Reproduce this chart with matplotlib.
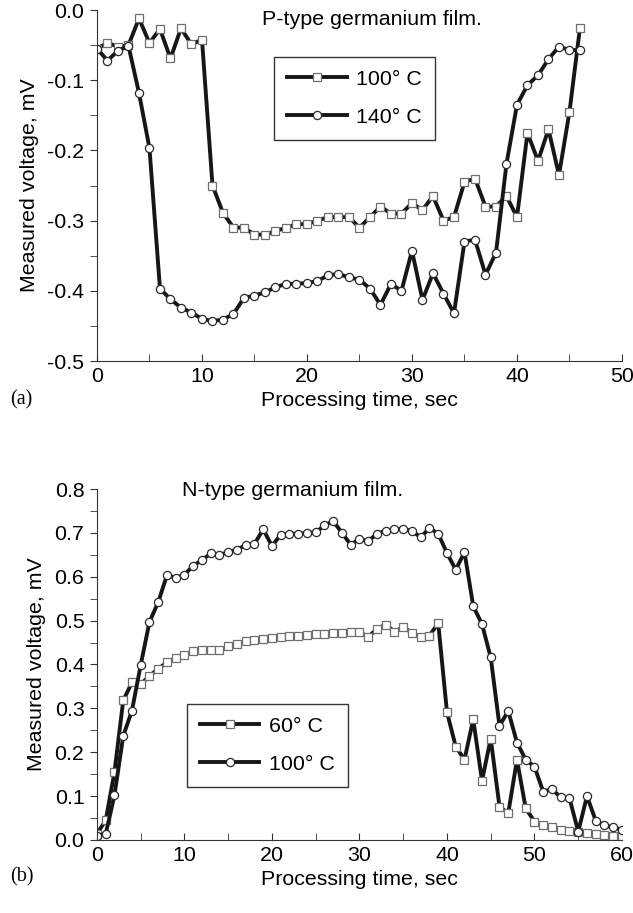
import numpy as np
import matplotlib
matplotlib.use("Agg")
import matplotlib.pyplot as plt
from matplotlib.ticker import MultipleLocator, FormatStrFormatter

#data
t_a = np.arange(0, 47)
p_100 = [-0.055, -0.047, -0.052, -0.050, -0.012, -0.047, -0.027, -0.069, -0.026, -0.049,
         -0.042, -0.250, -0.289, -0.310, -0.310, -0.320, -0.320, -0.315, -0.310, -0.305,
         -0.305, -0.300, -0.295, -0.295, -0.295, -0.310, -0.295, -0.280, -0.290, -0.290,
         -0.275, -0.285, -0.265, -0.300, -0.295, -0.245, -0.240, -0.280, -0.280, -0.265,
         -0.295, -0.175, -0.215, -0.170, -0.235, -0.145, -0.025]
p_140 = [-0.055, -0.072, -0.058, -0.051, -0.118, -0.197, -0.397, -0.412, -0.424, -0.431,
         -0.440, -0.443, -0.441, -0.433, -0.410, -0.407, -0.402, -0.395, -0.390, -0.390,
         -0.389, -0.386, -0.378, -0.376, -0.381, -0.384, -0.397, -0.420, -0.390, -0.400,
         -0.343, -0.413, -0.375, -0.404, -0.432, -0.330, -0.327, -0.377, -0.346, -0.219,
         -0.135, -0.107, -0.093, -0.070, -0.052, -0.057, -0.057]

t_b = np.arange(0, 61)
n_60 = [0.014, 0.045, 0.155, 0.318, 0.359, 0.355, 0.374, 0.390, 0.405, 0.415,
        0.422, 0.430, 0.434, 0.432, 0.432, 0.441, 0.447, 0.453, 0.456, 0.458,
        0.460, 0.462, 0.465, 0.466, 0.468, 0.470, 0.470, 0.471, 0.472, 0.474,
        0.474, 0.463, 0.481, 0.491, 0.475, 0.485, 0.472, 0.462, 0.466, 0.494,
        0.291, 0.213, 0.183, 0.275, 0.135, 0.231, 0.076, 0.061, 0.183, 0.072,
        0.042, 0.034, 0.030, 0.023, 0.021, 0.019, 0.017, 0.013, 0.011, 0.010, 0.008]
n_100 = [0.010, 0.014, 0.102, 0.237, 0.295, 0.399, 0.497, 0.542, 0.604, 0.597,
         0.605, 0.625, 0.638, 0.653, 0.650, 0.656, 0.662, 0.672, 0.675, 0.708,
         0.670, 0.696, 0.698, 0.698, 0.700, 0.701, 0.717, 0.727, 0.700, 0.673,
         0.686, 0.681, 0.698, 0.705, 0.709, 0.709, 0.704, 0.690, 0.711, 0.698,
         0.654, 0.616, 0.656, 0.533, 0.492, 0.416, 0.260, 0.294, 0.222, 0.183,
         0.167, 0.110, 0.116, 0.097, 0.095, 0.019, 0.100, 0.044, 0.033, 0.029, 0.023]

plt.rcParams['font.family'] = ['Liberation Sans', 'DejaVu Sans']
fs = 15.4

fig = plt.figure(figsize=(6.33, 9.13), dpi=100)
ax1 = fig.add_axes([0.1532, 0.6046, 0.8294, 0.3844])
ax2 = fig.add_axes([0.1532, 0.0800, 0.8294, 0.3844])

sq = dict(color='#161616', lw=2.8, marker='s', ms=5.4, mfc='white', mec='#6e6e6e', mew=0.9)
ci = dict(color='#161616', lw=2.8, marker='o', ms=5.9, mfc='white', mec='#2a2a2a', mew=0.9)

#top panel
ax1.plot(t_a, p_100, label='100° C', **sq)
ax1.plot(t_a, p_140, label='140° C', **ci)
ax1.set_xlim(0, 50)
ax1.set_ylim(-0.5, 0.0)
ax1.text(36.7, -0.013, 'P-type germanium film.', fontsize=fs, ha='right', va='center')
leg1 = ax1.legend(loc='upper left', bbox_to_anchor=(0.337, 0.866), borderaxespad=0,
                  handlelength=2.8, handletextpad=0.45, fancybox=False, edgecolor='black',
                  borderpad=0.6, labelspacing=0.88, fontsize=fs)

#bottom panel
ax2.plot(t_b, n_60, label='60° C', **sq)
ax2.plot(t_b, n_100, label='100° C', **ci)
ax2.set_xlim(0, 60)
ax2.set_ylim(0.0, 0.8)
ax2.text(9.7, 0.797, 'N-type germanium film.', fontsize=fs, ha='left', va='center')
leg2 = ax2.legend(loc='upper left', bbox_to_anchor=(0.171, 0.387), borderaxespad=0,
                  handlelength=2.8, handletextpad=0.45, fancybox=False, edgecolor='black',
                  borderpad=0.6, labelspacing=0.88, fontsize=fs)

for leg in (leg1, leg2):
    leg.get_frame().set_linewidth(1.0)

for ax in (ax1, ax2):
    ax.spines['top'].set_visible(False)
    ax.spines['right'].set_visible(False)
    ax.spines['left'].set_color('#333333')
    ax.spines['bottom'].set_color('#333333')
    ax.xaxis.set_major_locator(MultipleLocator(10))
    ax.xaxis.set_minor_locator(MultipleLocator(5))
    ax.yaxis.set_major_locator(MultipleLocator(0.1))
    ax.yaxis.set_minor_locator(MultipleLocator(0.05))
    ax.yaxis.set_major_formatter(FormatStrFormatter('%.1f'))
    ax.tick_params(axis='x', which='both', direction='in', length=5, pad=4, color='#333333')
    ax.tick_params(axis='y', which='both', direction='out', length=5, pad=4, color='#333333')
    ax.tick_params(labelsize=fs)
    ax.set_xlabel('Processing time, sec', fontsize=fs, labelpad=4)
    ax.set_ylabel('Measured voltage, mV', fontsize=fs, labelpad=6)

fig.text(0.016, 0.562, '(a)', family='Liberation Serif', fontsize=14.5, va='center')
fig.text(0.016, 0.040, '(b)', family='Liberation Serif', fontsize=14.5, va='center')

fig.savefig('out.png', dpi=100)
